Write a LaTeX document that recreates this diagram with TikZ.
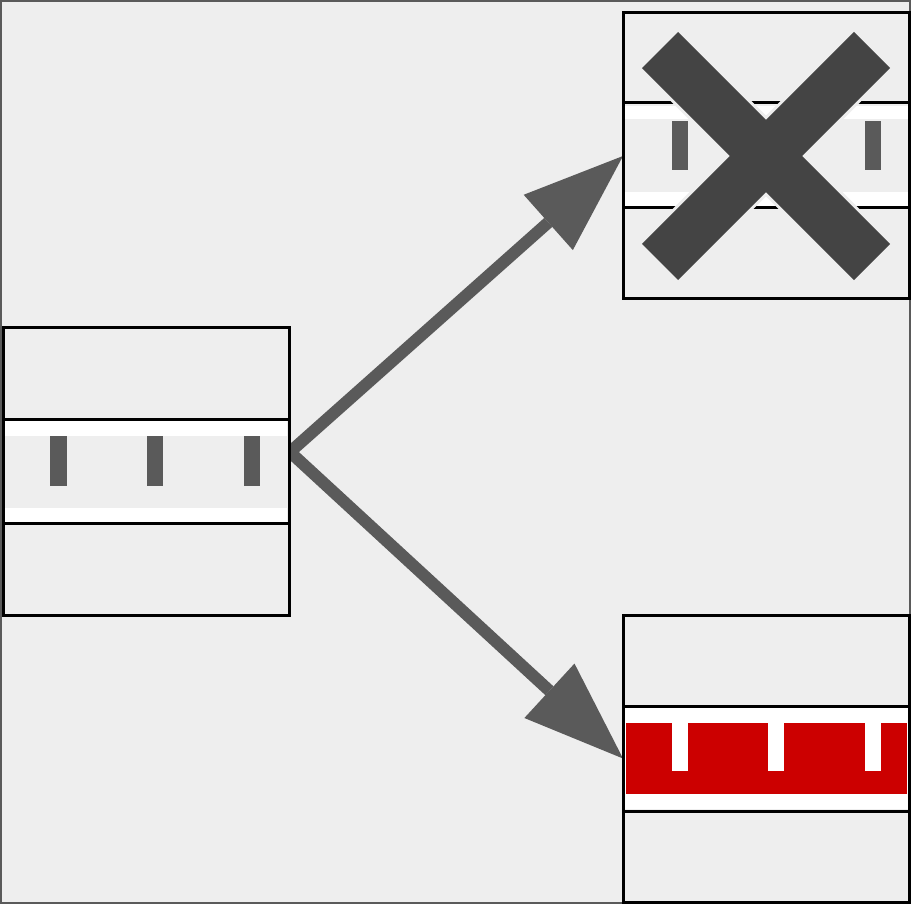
\documentclass[tikz,border=0pt]{standalone}
\usetikzlibrary{arrows.meta}
\definecolor{bgc}{HTML}{EEEEEE}
\definecolor{arrowc}{HTML}{5A5A5A}
\definecolor{xc}{HTML}{444444}
\definecolor{redc}{HTML}{CC0000}
\definecolor{framec}{HTML}{5A5A5A}
\pgfdeclarelayer{back}
\pgfdeclarelayer{mid}
\pgfsetlayers{back,mid,main}
\tikzset{
  boxnode/.style={draw=black, line width=3pt, fill=bgc, minimum width=286pt, minimum height=287pt, inner sep=0pt, outer sep=0pt},
  divider/.style={draw=black, line width=3pt},
  band/.style={fill=white},
  tickmark/.style={fill=arrowc},
  wtick/.style={fill=white},
  redband/.style={fill=redc},
  flow/.style={draw=arrowc, line width=12pt, -{Triangle[length=100pt,width=74pt,line width=0pt]}},
  cross/.style={draw=xc, line width=51pt},
  crossedge/.style={draw=bgc, line width=57pt},
}
\begin{document}
\begin{tikzpicture}[x=1pt,y=-1pt]
\useasboundingbox (0,0) rectangle (911,904);
\begin{pgfonlayer}{back}
  \draw[draw=framec, fill=bgc, line width=2pt] (1,1) rectangle (910,903);
\end{pgfonlayer}

% boxes
\node[boxnode] (L) at (146,471.5) {};
\node[boxnode, minimum height=286pt] (T) at (766,156) {};
\node[boxnode] (B) at (766,758.5) {};

% left box interior
\fill[band] (4.5,421) rectangle (287,436);
\fill[band] (4.5,508) rectangle (287,522);
\draw[divider] (L.west |- 0,419) -- (L.east |- 0,419);
\draw[divider] (L.west |- 0,523) -- (L.east |- 0,523);
\fill[tickmark] (50,436) rectangle (67,486);
\fill[tickmark] (147,436) rectangle (163,486);
\fill[tickmark] (244,436) rectangle (260,486);

% top right box interior
\fill[band] (624.5,106) rectangle (907.5,119);
\fill[band] (624.5,192) rectangle (907.5,206);
\draw[divider] (T.west |- 0,103) -- (T.east |- 0,103);
\draw[divider] (T.west |- 0,208) -- (T.east |- 0,208);
\fill[tickmark] (672,121) rectangle (688,170);
\fill[tickmark] (768,121) rectangle (784,170);
\fill[tickmark] (865,121) rectangle (881,170);
\draw[crossedge] (660,50) -- (872,262);
\draw[crossedge] (872,50) -- (660,262);
\draw[cross] (660,50) -- (872,262);
\draw[cross] (872,50) -- (660,262);

% bottom right box interior
\fill[band] (624.5,708) rectangle (907.5,809);
\fill[redband] (626,723) rectangle (907,794);
\draw[divider] (B.west |- 0,706) -- (B.east |- 0,706);
\draw[divider] (B.west |- 0,811) -- (B.east |- 0,811);
\fill[wtick] (672,723) rectangle (688,771);
\fill[wtick] (768,723) rectangle (784,771);
\fill[wtick] (865,723) rectangle (881,771);

% connectors
\coordinate (src) at (290,452);
\begin{pgfonlayer}{mid}
  \draw[flow] (src) -- (T.west);
  \draw[flow] (src) -- (B.west);
\end{pgfonlayer}
\end{tikzpicture}
\end{document}
